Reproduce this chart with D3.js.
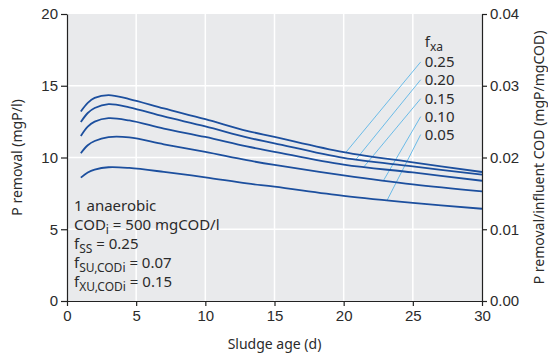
<!DOCTYPE html>
<html>
<head>
<meta charset="utf-8">
<script src="https://cdn.jsdelivr.net/npm/d3@7"></script>
<style>
  body { margin: 0; background: #fff; }
  svg { display: block; font-family: "Noto Sans", sans-serif; }
  .axis text { font-size: 15px; fill: #2b2b2b; }
  .axis path, .axis line { stroke: #222; stroke-width: 1.2; }
</style>
</head>
<body>
<svg id="chart" width="548" height="354"></svg>
<script>
// sludge ages (d) where the curves were read
const ages = [1, 1.5, 2, 3, 4.5, 7, 10, 13, 15, 20, 25, 30];

// P removal (mgP/l) for each fxa
const fxa25 = [13.2, 13.8, 14.15, 14.35, 14.07, 13.42, 12.67, 11.86, 11.44, 10.38, 9.66, 8.99];
const fxa20 = [12.47, 13.1, 13.45, 13.72, 13.5, 12.86, 12.17, 11.4, 10.99, 9.97, 9.38, 8.8];
const fxa15 = [11.5, 12.15, 12.5, 12.74, 12.58, 12.02, 11.43, 10.77, 10.4, 9.5, 8.96, 8.38];
const fxa10 = [10.3, 10.85, 11.15, 11.42, 11.4, 10.92, 10.39, 9.81, 9.48, 8.76, 8.13, 7.64];
const fxa05 = [8.6, 8.95, 9.15, 9.32, 9.27, 9.0, 8.62, 8.19, 7.97, 7.33, 6.84, 6.43];

const series = [fxa25, fxa20, fxa15, fxa10, fxa05];
const fxaLabels = ["0.25", "0.20", "0.15", "0.10", "0.05"];

// leader lines: label end [age, value] and curve end [age, value]
const leaderTop = [[25.57, 16.66], [25.57, 15.42], [25.57, 14.1], [25.57, 12.85], [25.57, 11.6]];
const leaderEnd = [[20.15, 10.35], [20.9, 9.88], [21.47, 9.36], [22.87, 8.38], [23.13, 7.0]];

const xTicks = [0, 5, 10, 15, 20, 25, 30];
const yTicks = [0, 5, 10, 15, 20];
const y2Ticks = [0, 0.01, 0.02, 0.03, 0.04];

const svg = d3.select("#chart");
const margin = {top: 14, right: 66, bottom: 53, left: 67};
const W = 548, H = 354;

const x = d3.scaleLinear().domain([0, 30]).range([margin.left, W - margin.right]);
const y = d3.scaleLinear().domain([0, 20]).range([H - margin.bottom, margin.top]);
const y2 = d3.scaleLinear().domain([0, 0.04]).range([H - margin.bottom, margin.top]);

// plot background
svg.append("rect")
    .attr("x", x(0)).attr("y", y(20))
    .attr("width", x(30) - x(0)).attr("height", y(0) - y(20))
    .attr("fill", "#e9eaec");

// grid
svg.append("g").selectAll("line")
    .data(xTicks.slice(1, -1)).enter().append("line")
    .attr("x1", d => x(d)).attr("x2", d => x(d))
    .attr("y1", y(0)).attr("y2", y(20))
    .attr("stroke", "#fff").attr("stroke-width", 1.5);
svg.append("g").selectAll("line")
    .data(yTicks.slice(1, -1)).enter().append("line")
    .attr("x1", x(0)).attr("x2", x(30))
    .attr("y1", d => y(d)).attr("y2", d => y(d))
    .attr("stroke", "#fff").attr("stroke-width", 1.5);

// leader lines
svg.append("g").selectAll("line")
    .data(leaderTop).enter().append("line")
    .attr("x1", d => x(d[0])).attr("y1", d => y(d[1]))
    .attr("x2", (d, i) => x(leaderEnd[i][0])).attr("y2", (d, i) => y(leaderEnd[i][1]))
    .attr("stroke", "#5cb6e6").attr("stroke-width", 0.9);

// curves
const line = d3.line()
    .x((d, i) => x(ages[i]))
    .y(d => y(d))
    .curve(d3.curveCatmullRom);

svg.append("g").selectAll("path")
    .data(series).enter().append("path")
    .attr("d", line)
    .attr("fill", "none")
    .attr("stroke", "#1c4f9e")
    .attr("stroke-width", 1.8);

// axes
svg.append("g").attr("class", "axis")
    .attr("transform", `translate(0,${y(0)})`)
    .call(d3.axisBottom(x).tickValues(xTicks).tickSize(5).tickPadding(4).tickSizeOuter(0));
svg.append("g").attr("class", "axis")
    .attr("transform", `translate(${x(0)},0)`)
    .call(d3.axisLeft(y).tickValues(yTicks).tickSize(6).tickPadding(3).tickSizeOuter(0));
svg.append("g").attr("class", "axis")
    .attr("transform", `translate(${x(30)},0)`)
    .call(d3.axisRight(y2).tickValues(y2Ticks).tickFormat(d3.format(".2f")).tickSize(5).tickPadding(3).tickSizeOuter(0));

// axis titles
svg.append("text")
    .attr("x", (x(0) + x(30)) / 2).attr("y", 349)
    .attr("text-anchor", "middle")
    .attr("font-size", 14).attr("fill", "#2b2b2b")
    .text("Sludge age (d)");
svg.append("text")
    .attr("transform", `translate(22,${(y(0) + y(20)) / 2}) rotate(-90)`)
    .attr("text-anchor", "middle")
    .attr("font-size", 14).attr("fill", "#2b2b2b")
    .text("P removal (mgP/l)");
svg.append("text")
    .attr("transform", `translate(544,${(y(0) + y(20)) / 2}) rotate(-90)`)
    .attr("text-anchor", "middle")
    .attr("font-size", 14).attr("fill", "#2b2b2b")
    .text("P removal/influent COD (mgP/mgCOD)");

// fxa labels
const lab = svg.append("g").attr("font-size", 15).attr("fill", "#2b2b2b");
lab.selectAll("text.v")
    .data(fxaLabels).enter().append("text")
    .attr("class", "v")
    .attr("x", (d, i) => x(leaderTop[i][0]) + 4)
    .attr("y", (d, i) => y(leaderTop[i][1]) + 5)
    .text(d => d);
const fx = lab.append("text")
    .attr("x", x(leaderTop[0][0]) + 4)
    .attr("y", y(leaderTop[0][1]) - 15);
fx.append("tspan").text("f");
fx.append("tspan").attr("dy", 4).attr("font-size", 12).text("xa");

// parameter block
const info = svg.append("g").attr("font-size", 15).attr("fill", "#2b2b2b");
const ix = 74;
info.append("text").attr("x", ix).attr("y", 211).text("1 anaerobic");

function sub(yy, base, s, rest) {
  const t = info.append("text").attr("x", ix).attr("y", yy);
  t.append("tspan").text(base);
  t.append("tspan").attr("dy", 4).attr("font-size", 12).text(s);
  t.append("tspan").attr("dy", -4).text(rest);
}
sub(230, "COD", "i", " = 500 mgCOD/l");
sub(249, "f", "SS", " = 0.25");
sub(268, "f", "SU,CODi", " = 0.07");
sub(287, "f", "XU,CODi", " = 0.15");
</script>
</body>
</html>
